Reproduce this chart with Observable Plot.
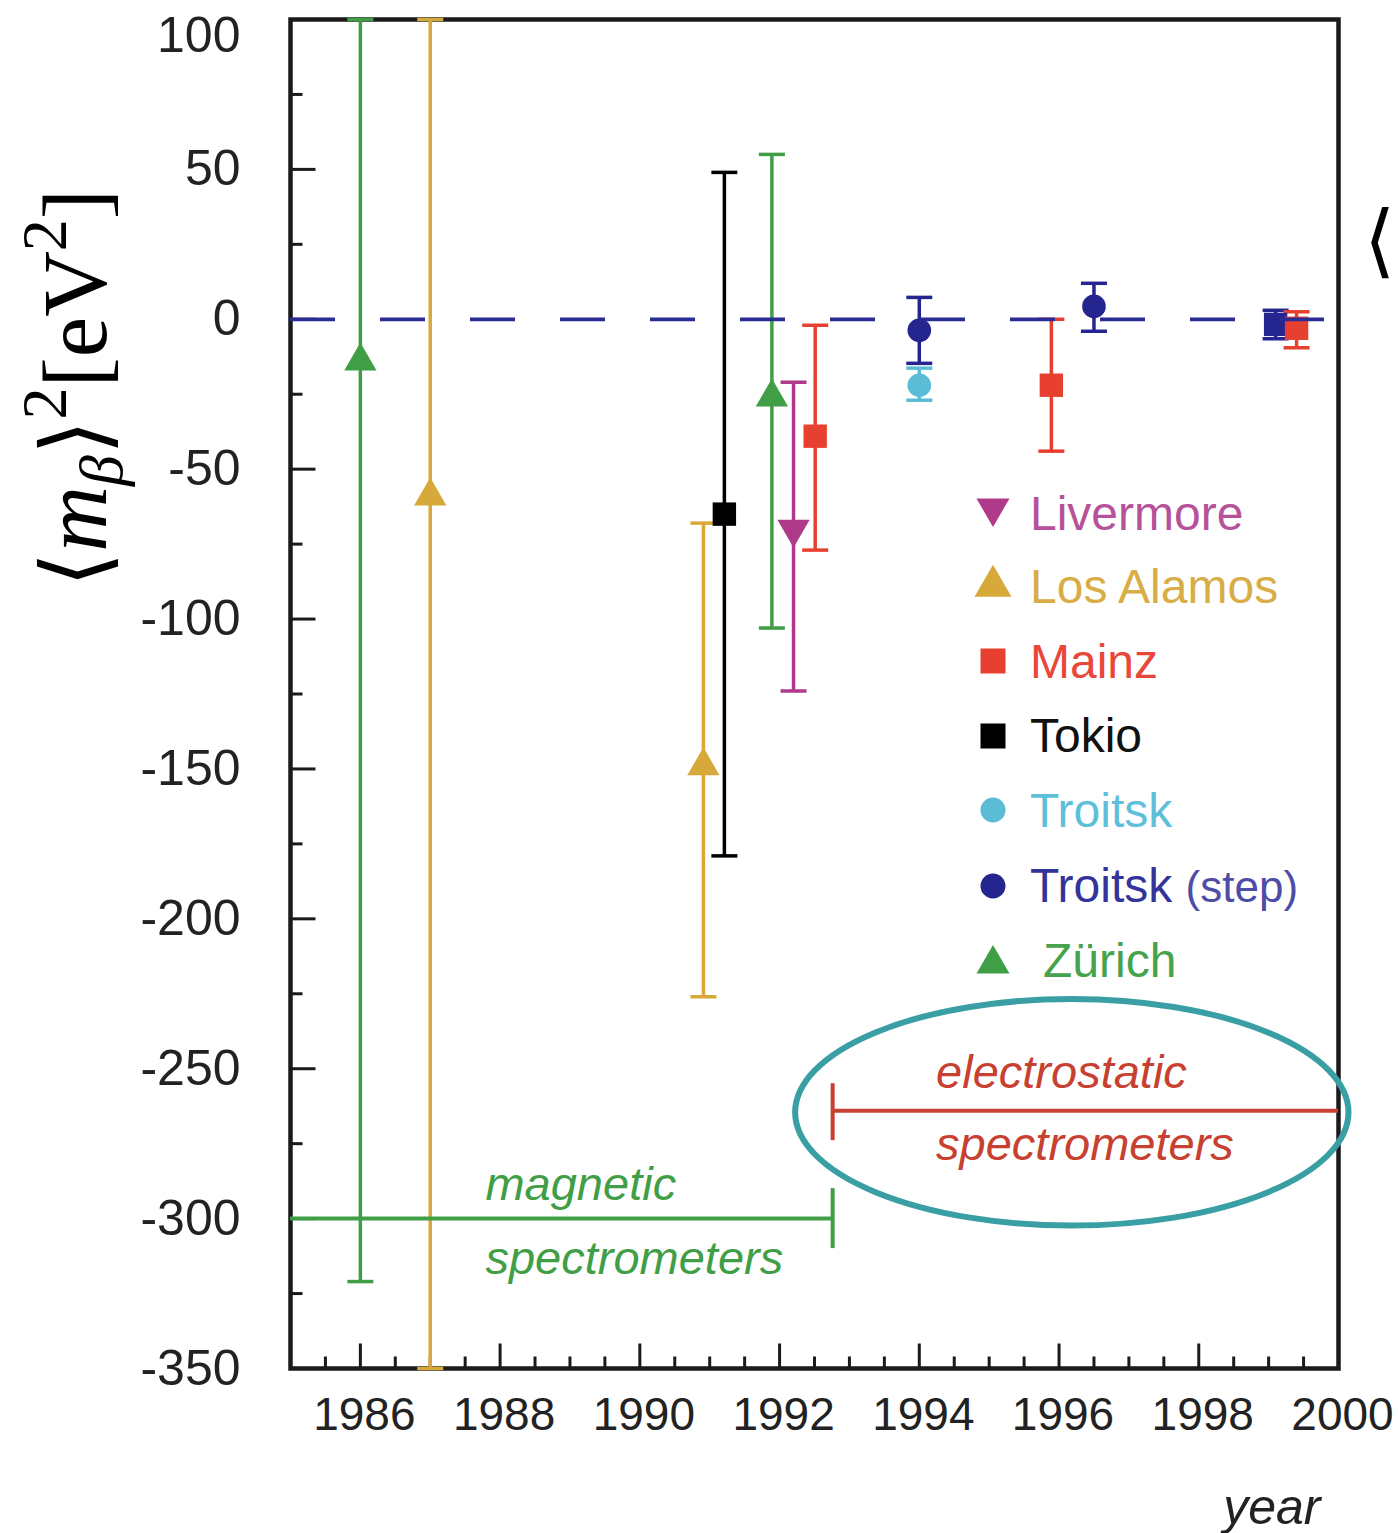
<!DOCTYPE html>
<html><head><meta charset="utf-8">
<script src="https://cdn.jsdelivr.net/npm/d3@7"></script>
<script src="https://cdn.jsdelivr.net/npm/@observablehq/plot@0.6"></script>
<style>
html,body{margin:0;padding:0;background:#fff;}
#wrap{position:relative;width:1398px;height:1533px;overflow:hidden;}
</style></head><body><div id="wrap"></div>
<script>
// ---------- data ----------
const labNames = ["Livermore","Los Alamos","Mainz","Tokio","Troitsk","Troitsk (step)","Zürich"];
const experiment = ["Zürich","Los Alamos","Los Alamos","Tokio","Zürich","Livermore","Mainz","Troitsk (step)","Troitsk","Mainz","Troitsk (step)","Troitsk (step)","Mainz"];
const year    = [1986.0, 1987.0, 1990.91, 1991.21, 1991.89, 1992.2, 1992.51, 1994.0, 1994.0, 1995.89, 1996.5, 1999.1, 1999.4];
const value   = [-14, -59, -149, -65, -26, -70, -39, -3.7, -22, -22, 4.3, -1.7, -3];
const errLow  = [-321, -350, -226, -179, -103, -124, -77, -14.7, -27, -44, -4, -6.5, -9.5];
const errHigh = [100, 100, -68, 49, 55, -21, -2, 7.3, -16.3, 0, 12, 3, 2.5];
const marker  = ["triangle","triangle","triangle","square","triangle","triangle-down","square","circle","circle","square","circle","square","square"];

const yMajorTicks = [100, 50, 0, -50, -100, -150, -200, -250, -300, -350];
const xMajorTicks = [1986, 1988, 1990, 1992, 1994, 1996, 1998, 2000];
const zeroLine = [0];
const zeroLineEnd = 1999.8;

// spectrometer era annotations (data coordinates)
const spanKind  = ["magnetic", "electrostatic"];
const spanFrom  = [1985, 1992.76];
const spanTo    = [1992.76, 2000];
const spanY     = [-300, -264];
const capX      = [1992.76, 1992.76];
const capLow    = [-310, -274];
const capHigh   = [-290, -255];
const annoKind  = ["magnetic", "magnetic", "electrostatic", "electrostatic"];
const annoText  = ["magnetic", "spectrometers", "electrostatic", "spectrometers"];
const annoX     = [1987.79, 1987.79, 1994.24, 1994.24];
const annoY     = [-293.7, -318.5, -256.3, -280.5];
const ellipseCenter = [1996.19, -264.7];
const ellipseRadius = [3.96, 37.8];

// ---------- styles ----------
const labColors  = ["#b03a8a","#d6a93a","#e84030","#000000","#5bbcd6","#25258f","#3f9e46"];
const legendText = ["#b5529a","#d9ad45","#e8473a","#111111","#5fbfda","#333399","#46a24b"];
const legendMark = ["triangle-down","triangle","square","square","circle","circle","triangle"];
const spanColor = {magnetic: "#3f9e46", electrostatic: "#c8402f"};
const sans = "'Liberation Sans', Arial, Helvetica, sans-serif";

const rows = experiment.map((e, i) => ({lab: e, year: year[i], value: value[i], low: errLow[i], high: errHigh[i], marker: marker[i]}));
const spans = spanKind.map((k, i) => ({kind: k, from: spanFrom[i], to: spanTo[i], y: spanY[i], capX: capX[i], capLow: capLow[i], capHigh: capHigh[i]}));
const annos = annoText.map((t, i) => ({kind: annoKind[i], text: t, x: annoX[i], y: annoY[i]}));

const yMinorTicks = d3.range(-325, 100, 50);
const xMinorTicks = d3.range(1985.5, 2000, 0.5).filter(v => !xMajorTicks.includes(v));

const tickRight = len => ({draw(c) { c.moveTo(0, 0); c.lineTo(len, 0); }});
const tickUp = len => ({draw(c) { c.moveTo(0, 0); c.lineTo(0, -len); }});
const capSym = {draw(c) { c.moveTo(-13, 0); c.lineTo(13, 0); }};

const plot = Plot.plot({
  width: 1398, height: 1533,
  marginLeft: 290, marginRight: 60, marginTop: 19, marginBottom: 165,
  x: {domain: [1985, 2000], axis: null},
  y: {domain: [-350, 100], axis: null},
  color: {domain: labNames, range: labColors},
  style: {fontFamily: sans, fontSize: "46px", color: "#222", background: "white", overflow: "visible"},
  marks: [
    Plot.frame({stroke: "#1a1a1a", strokeWidth: 4.5}),
    // axis ticks (inside)
    Plot.dot(yMajorTicks, {y: d => d, frameAnchor: "left", symbol: tickRight(25), fill: "none", stroke: "#1a1a1a", strokeWidth: 3}),
    Plot.dot(yMinorTicks, {y: d => d, frameAnchor: "left", symbol: tickRight(12), fill: "none", stroke: "#1a1a1a", strokeWidth: 3}),
    Plot.dot(xMajorTicks, {x: d => d, frameAnchor: "bottom", symbol: tickUp(25), fill: "none", stroke: "#1a1a1a", strokeWidth: 3}),
    Plot.dot(xMinorTicks, {x: d => d, frameAnchor: "bottom", symbol: tickUp(12), fill: "none", stroke: "#1a1a1a", strokeWidth: 3}),
    // tick labels
    Plot.text(yMajorTicks.filter(d => d < 100), {y: d => d, text: d => String(d), frameAnchor: "left", textAnchor: "end", dx: -50, fontSize: 50, fill: "#222"}),
    Plot.text(yMajorTicks.filter(d => d >= 100), {y: d => d, text: d => String(d), frameAnchor: "left", textAnchor: "end", dx: -50, dy: 16, fontSize: 50, fill: "#222"}),
    Plot.text(xMajorTicks, {x: d => d, text: d => String(d), frameAnchor: "bottom", dx: 4, dy: 61, fontSize: 46, fill: "#222"}),
    Plot.text(["year"], {frameAnchor: "bottom-right", text: d => d, textAnchor: "end", lineAnchor: "bottom", dx: -18, dy: 155, fontSize: 50, fontStyle: "italic", fill: "#222"}),
    // error bars
    Plot.ruleX(rows, {x: "year", y1: "low", y2: "high", stroke: "lab", strokeWidth: 3.5}),
    Plot.dot(rows, {x: "year", y: "low", symbol: capSym, fill: "none", stroke: "lab", strokeWidth: 3.5}),
    Plot.dot(rows, {x: "year", y: "high", symbol: capSym, fill: "none", stroke: "lab", strokeWidth: 3.5}),
    // markers
    Plot.dot(rows.filter(d => d.marker === "triangle"), {x: "year", y: "value", symbol: "triangle", r: 12, fill: "lab", stroke: "none"}),
    Plot.dot(rows.filter(d => d.marker === "triangle-down"), {x: "year", y: "value", symbol: "triangle", r: 12, rotate: 180, fill: "lab", stroke: "none"}),
    Plot.dot(rows.filter(d => d.marker === "square"), {x: "year", y: "value", symbol: "square", r: 13.2, fill: "lab", stroke: "none"}),
    Plot.dot(rows.filter(d => d.marker === "circle"), {x: "year", y: "value", symbol: "circle", r: 11.8, fill: "lab", stroke: "none"}),
    // zero reference line
    Plot.ruleY(zeroLine, {y: d => d, x1: 1985, x2: zeroLineEnd, stroke: "#2b2b96", strokeWidth: 3.8, strokeDasharray: "45,45"}),
    // spectrometer spans
    ...spanKind.map(k => Plot.ruleY(spans.filter(s => s.kind === k), {y: "y", x1: "from", x2: "to", stroke: spanColor[k], strokeWidth: 4})),
    ...spanKind.map(k => Plot.ruleX(spans.filter(s => s.kind === k), {x: "capX", y1: "capLow", y2: "capHigh", stroke: spanColor[k], strokeWidth: 4})),
    ...spanKind.map(k => Plot.text(annos.filter(a => a.kind === k), {x: "x", y: "y", text: "text", textAnchor: "start", lineAnchor: "bottom", fontStyle: "italic", fontSize: 47, fill: spanColor[k]}))
  ]
});

document.getElementById("wrap").appendChild(plot);
const svg = d3.select(plot);
const sx = plot.scale("x"), sy = plot.scale("y");

// ellipse around electrostatic era
const ecx = sx.apply(ellipseCenter[0]), ecy = sy.apply(ellipseCenter[1]);
svg.append("ellipse")
  .attr("cx", ecx).attr("cy", ecy)
  .attr("rx", sx.apply(ellipseCenter[0] + ellipseRadius[0]) - ecx)
  .attr("ry", sy.apply(ellipseCenter[1] - ellipseRadius[1]) - ecy)
  .attr("fill", "none").attr("stroke", "#3a9fa4").attr("stroke-width", 6);

// legend
const lg = svg.append("g").attr("font-family", sans).attr("font-size", 48).attr("text-anchor", "start");
const legendMarkY = [508, 586, 661, 736, 810, 886, 964];
const legendBase = [530, 603, 678, 752, 827, 902, 977];
labNames.forEach((name, i) => {
  const m = legendMark[i];
  let type, size, rot = 0;
  if (m === "triangle" || m === "triangle-down") { const w = i === 1 ? 37 : 33; type = d3.symbolTriangle; size = w * w * Math.sqrt(3) / 4; if (m === "triangle-down") rot = 180; }
  else if (m === "square") { type = d3.symbolSquare; size = 25 * 25; }
  else { type = d3.symbolCircle; size = Math.PI * 12.5 * 12.5; }
  lg.append("path").attr("d", d3.symbol(type, size)())
    .attr("transform", `translate(993,${legendMarkY[i]}) rotate(${rot})`)
    .attr("fill", labColors[i]);
  const t = lg.append("text").attr("x", name === "Zürich" ? 1043 : 1030).attr("y", legendBase[i])
    .attr("text-anchor", "start").attr("fill", legendText[i]);
  if (name === "Troitsk (step)") {
    t.append("tspan").text("Troitsk ");
    t.append("tspan").attr("font-size", 44).attr("fill", "#4d4da6").text("(step)");
  } else t.text(name);
});

// y-axis title
const yt = svg.append("text").attr("transform", "translate(106,388) rotate(-90)")
  .attr("text-anchor", "middle").attr("font-family", "'Liberation Serif', 'DejaVu Serif', serif")
  .attr("font-size", 91).attr("fill", "#000");
yt.append("tspan").text("⟨");
yt.append("tspan").attr("font-style", "italic").text("m");
yt.append("tspan").attr("font-style", "italic").attr("font-size", 62).attr("dy", 16).text("β");
yt.append("tspan").attr("dy", -16).text("⟩");
yt.append("tspan").attr("font-size", 64).attr("dy", -40).text("2");
yt.append("tspan").attr("dy", 40).text("[eV");
yt.append("tspan").attr("font-size", 64).attr("dy", -40).text("2");
yt.append("tspan").attr("dy", 40).text("]");

// glyph at right edge of the original figure (kept fully visible)
svg.append("text").attr("x", 1364).attr("y", 268).attr("text-anchor", "start").attr("font-family", "'DejaVu Sans', sans-serif")
  .attr("font-size", 80).attr("fill", "#000").text("⟨");
</script>
</body></html>
